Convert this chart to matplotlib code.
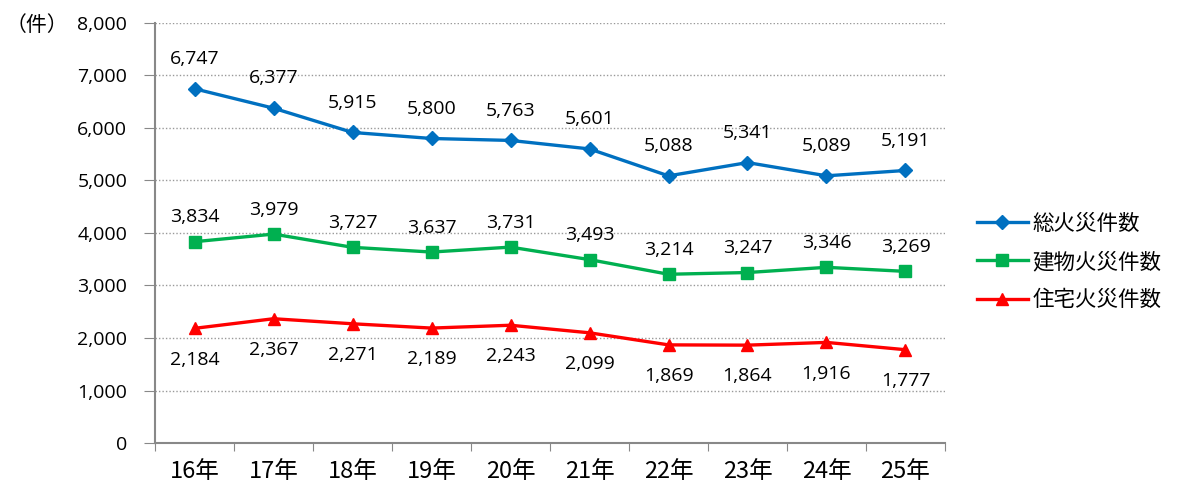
import matplotlib
matplotlib.use('Agg')

import matplotlib.pyplot as plt
import numpy as np

plt.rcParams['font.family'] = ['Open Sans', 'Noto Sans CJK JP', 'DejaVu Sans']

# データ
years = ['16年', '17年', '18年', '19年', '20年', '21年', '22年', '23年', '24年', '25年']
total_fires = [6747, 6377, 5915, 5800, 5763, 5601, 5088, 5341, 5089, 5191]
building_fires = [3834, 3979, 3727, 3637, 3731, 3493, 3214, 3247, 3346, 3269]
house_fires = [2184, 2367, 2271, 2189, 2243, 2099, 1869, 1864, 1916, 1777]

cjk = ['Noto Sans CJK JP', 'DejaVu Sans']

fig = plt.figure(figsize=(11.78, 4.93), dpi=100)
ax = fig.add_axes([0.1316, 0.1014, 0.6706, 0.852])

x = np.arange(len(years))

ax.plot(x, total_fires, color='#0070C0', lw=2.4, marker='D', ms=7, label='総火災件数')
ax.plot(x, building_fires, color='#00B050', lw=2.4, marker='s', ms=9, label='建物火災件数')
ax.plot(x, house_fires, color='#FF0000', lw=2.4, marker='^', ms=9, label='住宅火災件数')

# データラベル
for i in x:
    ax.annotate(f'{total_fires[i]:,}', (i, total_fires[i]), xytext=(0, 15),
                textcoords='offset points', ha='center', va='bottom', fontsize=14)
    ax.annotate(f'{building_fires[i]:,}', (i, building_fires[i]), xytext=(0, 11),
                textcoords='offset points', ha='center', va='bottom', fontsize=14)
    ax.annotate(f'{house_fires[i]:,}', (i, house_fires[i]), xytext=(0, -16),
                textcoords='offset points', ha='center', va='top', fontsize=14)

ax.set_xlim(-0.5, len(years) - 0.5)
ax.set_ylim(0, 8000)
ax.set_yticks(np.arange(0, 8001, 1000))
ax.set_yticklabels([f'{v:,}' for v in range(0, 8001, 1000)], fontsize=14)
ax.yaxis.grid(True, linestyle=(0, (1, 1.5)), color='#999999', lw=1)
ax.set_axisbelow(True)

# 目盛りはカテゴリの境界に
ax.set_xticks(np.arange(-0.5, len(years), 1))
ax.set_xticklabels([])
ax.set_xticks(x, minor=True)
ax.set_xticklabels(years, minor=True, fontsize=17, family=cjk)
ax.tick_params(axis='x', which='minor', length=0, pad=12)
ax.tick_params(axis='x', which='major', length=6, color='#888888', direction='out')
ax.tick_params(axis='y', length=8, color='#888888', direction='out', pad=12)

for s in ['top', 'right']:
    ax.spines[s].set_visible(False)
for s in ['left', 'bottom']:
    ax.spines[s].set_color('#888888')
    ax.spines[s].set_linewidth(1.5)

fig.text(0.005, 0.95, '（件）', fontsize=15, va='center', ha='left', family=cjk)

ax.legend(loc='center left', bbox_to_anchor=(1.04, 0.431), frameon=False,
          prop={'family': cjk, 'size': 15.5}, handlelength=2.4, labelspacing=0.75,
          handletextpad=0.2, borderaxespad=0, borderpad=0)

plt.savefig('out.png', dpi=100)
plt.close()
